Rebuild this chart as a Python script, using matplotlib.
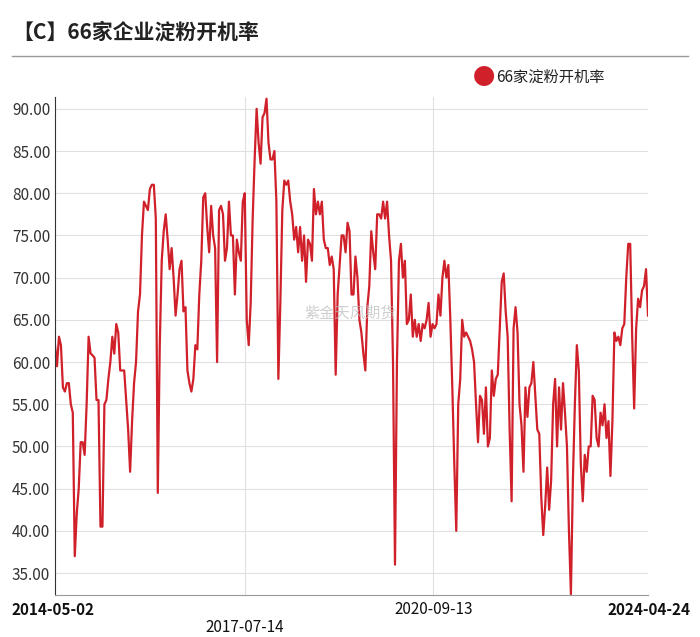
import matplotlib
matplotlib.use("Agg")
import matplotlib.pyplot as plt
import pandas as pd
import numpy as np

plt.rcParams['font.family'] = ['Noto Sans CJK SC', 'DejaVu Sans']

values = [62,59.5,63,62,57,56.5,57.5,57.5,55,54,37,42,45,50.5,50.5,49,55,63,61,60.8,60.5,55.5,55.5,40.5,40.5,55,55.5,58,60,63,61,64.5,63.5,59,59,59,55.5,52,47,53,57.5,60,66,68,75,79,78.5,78,80.5,81,81,77,44.5,62,72,75.5,77.5,74.5,71,73.5,70,65.5,68,71,72,66,66.5,59,57.5,56.5,58,62,61.5,68,72,79.5,80,76,73,78.5,75,73.5,60,78,78.5,77.5,72,73.5,79,75,75,68,74.5,73,72,79,80,65,62,67,77,84,90,86,83.5,89,89.5,91.2,86,84,84,85,79,58,67,78,81.5,81,81.5,79,77.5,74.5,76,73,76,72,75,69.5,74.5,74,72,80.5,77.5,79,77.5,79,74.5,73.5,73.5,71.5,72.5,71,58.5,68,71.5,75,75,73,76.5,75.5,68,68,72.5,70,65,63.5,61,59,66.5,69,75.5,73,71,77.5,77.5,77,79,77,79,75,72,60,36,60,72,74,70,72,64.5,65,68,63,65,63,64.5,62.5,64.5,64,65,67,63,64.5,64,64.5,68,65.5,70,72,70,71.5,65,57,48,40,55,58,65,63,63.5,63,62.5,61.5,60,55,50.5,56,55.5,51.5,57,50,51,59,56,58,58.5,64,69.5,70.5,66,63,52,43.5,64,66.5,63.5,55,52.5,47,57,53.5,57,57.5,60,56,52,51.5,44,39.5,43,47.5,42.5,46,55,58,50,57,52,57.5,54,50,40,32.5,46,55,62,59,48,43.5,49,47,50,50,56,55.5,51,50,54,52.5,55,51,53,46.5,53,63.5,62.5,63,62,64,64.5,70,74,74,63,54.5,64,67.5,66.5,68.5,69,71,65.5]
dates = pd.date_range("2014-05-02", "2024-04-24", periods=len(values))
tick_dates = pd.to_datetime(["2014-05-02", "2017-07-14", "2020-09-13", "2024-04-24"])
tick_labels = ["2014-05-02", "2017-07-14", "2020-09-13", "2024-04-24"]
yticks = np.arange(35, 91, 5)

fig = plt.figure(figsize=(7, 6.37), dpi=100)
ax = fig.add_axes([55/700, 42/637, 593/700, 498/637])
red = '#d0202a'
ax.plot(dates, values, color=red, lw=1.6)
ax.set_xlim(tick_dates[0], tick_dates[-1])
ax.set_ylim(32.4, 91.4)
ax.set_yticks(yticks)
ax.set_yticklabels([f"{v:.2f}" for v in yticks], fontsize=11, color='#333')
ax.grid(axis='y', color='#e0e0e0', lw=0.8)
ax.set_xticks(tick_dates[1:3])
ax.set_xticklabels([])
ax.grid(axis='x', color='#e0e0e0', lw=0.8)
ax.tick_params(axis='x', length=0)
ax.tick_params(axis='y', length=0)
for s in ['top', 'right']:
    ax.spines[s].set_visible(False)
ax.spines['left'].set_color('#333')
ax.spines['bottom'].set_color('#999')

for i, (d, lab) in enumerate(zip(tick_dates, tick_labels)):
    x = ax.transData.transform((matplotlib.dates.date2num(d), 0))[0] / 700
    ha = 'left' if i == 0 else ('right' if i == 3 else 'center')
    if i == 0: x = 12/700
    if i == 3: x = 690/700
    y = 1 - 628/637 if i == 1 else 1 - 610/637
    fig.text(x, y, lab, ha=ha, va='center', fontsize=11,
             fontweight='bold' if i in (0, 3) else 'normal', color='#111')

fig.text(12/700, 1 - 32/637, '【C】66家企业淀粉开机率', fontsize=15, fontweight='bold',
         va='center', ha='left', color='#222')
fig.add_artist(plt.Line2D([12/700, 688/700], [1 - 56/637, 1 - 56/637], color='#999', lw=1))
fig.text(484/700, 1 - 77/637, '●', color=red, fontsize=16, ha='center', va='center')
fig.text(496/700, 1 - 77/637, '66家淀粉开机率', color='#222', fontsize=11, ha='left', va='center')
fig.text(0.5, 1 - 313/637, '紫金天风期货', fontsize=11, color='#bbbbbb', alpha=0.7, ha='center', va='center')
fig.savefig('out.png', dpi=100)
